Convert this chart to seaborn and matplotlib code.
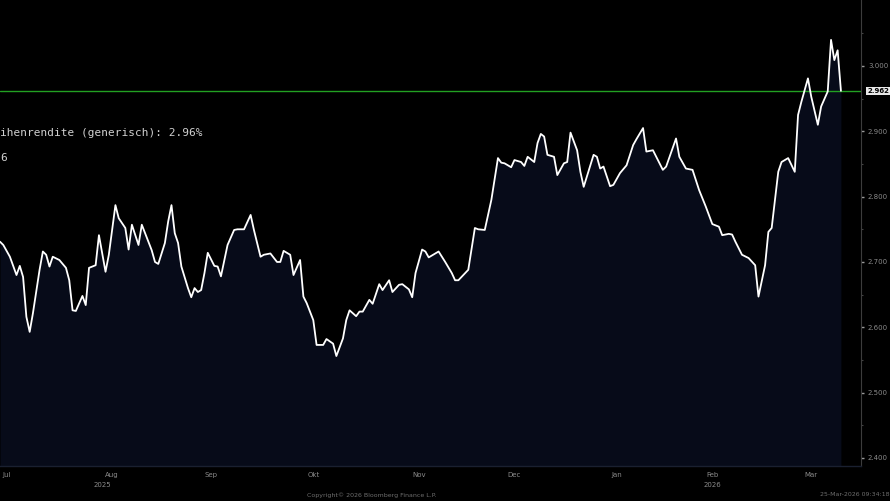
import numpy as np
import pandas as pd
import matplotlib
matplotlib.use("Agg")
import matplotlib.pyplot as plt
import matplotlib.dates as mdates
import seaborn as sns

# yield series (German 10y generic), Jul 2025 - Mar 2026
dates = [
    "2025-07-13", "2025-07-14", "2025-07-16", "2025-07-18", "2025-07-19", "2025-07-20",
    "2025-07-21", "2025-07-22", "2025-07-23", "2025-07-25", "2025-07-26", "2025-07-27",
    "2025-07-28", "2025-07-29", "2025-07-31", "2025-08-02", "2025-08-03", "2025-08-04",
    "2025-08-05", "2025-08-07", "2025-08-08", "2025-08-09", "2025-08-11", "2025-08-12",
    "2025-08-14", "2025-08-15", "2025-08-17", "2025-08-18", "2025-08-20", "2025-08-21",
    "2025-08-22", "2025-08-24", "2025-08-25", "2025-08-28", "2025-08-29", "2025-08-30",
    "2025-09-01", "2025-09-02", "2025-09-03", "2025-09-04", "2025-09-05", "2025-09-06",
    "2025-09-08", "2025-09-09", "2025-09-10", "2025-09-11", "2025-09-12", "2025-09-13",
    "2025-09-14", "2025-09-16", "2025-09-17", "2025-09-18", "2025-09-20", "2025-09-22",
    "2025-09-23", "2025-09-25", "2025-09-27", "2025-09-28", "2025-09-30", "2025-10-01",
    "2025-10-03", "2025-10-05", "2025-10-06", "2025-10-07", "2025-10-09", "2025-10-10",
    "2025-10-12", "2025-10-13", "2025-10-14", "2025-10-16", "2025-10-17", "2025-10-19",
    "2025-10-20", "2025-10-22", "2025-10-23", "2025-10-25", "2025-10-26", "2025-10-27",
    "2025-10-29", "2025-10-30", "2025-10-31", "2025-11-02", "2025-11-03", "2025-11-05",
    "2025-11-06", "2025-11-08", "2025-11-09", "2025-11-11", "2025-11-12", "2025-11-14",
    "2025-11-15", "2025-11-16", "2025-11-18", "2025-11-19", "2025-11-20", "2025-11-22",
    "2025-11-23", "2025-11-25", "2025-11-27", "2025-11-28", "2025-11-29", "2025-12-02",
    "2025-12-04", "2025-12-05", "2025-12-07", "2025-12-09", "2025-12-11", "2025-12-12",
    "2025-12-13", "2025-12-15", "2025-12-16", "2025-12-18", "2025-12-19", "2025-12-20",
    "2025-12-22", "2025-12-23", "2025-12-24", "2025-12-25", "2025-12-26", "2025-12-28",
    "2025-12-29", "2025-12-31", "2026-01-01", "2026-01-02", "2026-01-04", "2026-01-05",
    "2026-01-06", "2026-01-09", "2026-01-10", "2026-01-11", "2026-01-12", "2026-01-14",
    "2026-01-15", "2026-01-17", "2026-01-19", "2026-01-21", "2026-01-22", "2026-01-24",
    "2026-01-25", "2026-01-27", "2026-01-30", "2026-01-31", "2026-02-03", "2026-02-04",
    "2026-02-06", "2026-02-08", "2026-02-10", "2026-02-12", "2026-02-14", "2026-02-16",
    "2026-02-17", "2026-02-19", "2026-02-20", "2026-02-21", "2026-02-23", "2026-02-25",
    "2026-02-27", "2026-02-28", "2026-03-02", "2026-03-03", "2026-03-04", "2026-03-06",
    "2026-03-07", "2026-03-09", "2026-03-11", "2026-03-12", "2026-03-13", "2026-03-15",
    "2026-03-16", "2026-03-18", "2026-03-19", "2026-03-21", "2026-03-22", "2026-03-23",
    "2026-03-24", "2026-03-25",
]
yields = [
    2.731, 2.726, 2.708, 2.680, 2.694, 2.677,
    2.616, 2.593, 2.622, 2.688, 2.716, 2.711,
    2.693, 2.708, 2.703, 2.691, 2.672, 2.626,
    2.625, 2.648, 2.634, 2.691, 2.695, 2.741,
    2.685, 2.711, 2.787, 2.767, 2.752, 2.719,
    2.757, 2.726, 2.757, 2.718, 2.700, 2.697,
    2.729, 2.762, 2.787, 2.744, 2.729, 2.693,
    2.660, 2.646, 2.660, 2.654, 2.657, 2.683,
    2.714, 2.694, 2.693, 2.678, 2.726, 2.749,
    2.750, 2.750, 2.772, 2.749, 2.708, 2.711,
    2.713, 2.700, 2.700, 2.717, 2.711, 2.680,
    2.703, 2.647, 2.637, 2.611, 2.573, 2.573,
    2.582, 2.575, 2.556, 2.583, 2.611, 2.626,
    2.617, 2.624, 2.624, 2.642, 2.636, 2.666,
    2.657, 2.672, 2.654, 2.665, 2.666, 2.658,
    2.646, 2.683, 2.719, 2.716, 2.707, 2.713,
    2.716, 2.700, 2.683, 2.672, 2.672, 2.688,
    2.752, 2.750, 2.749, 2.795, 2.859, 2.852,
    2.851, 2.845, 2.856, 2.853, 2.847, 2.861,
    2.853, 2.882, 2.896, 2.892, 2.864, 2.861,
    2.833, 2.851, 2.853, 2.898, 2.871, 2.838,
    2.815, 2.864, 2.861, 2.843, 2.846, 2.816,
    2.818, 2.836, 2.848, 2.879, 2.888, 2.905,
    2.869, 2.871, 2.841, 2.846, 2.889, 2.861,
    2.843, 2.841, 2.810, 2.785, 2.758, 2.754,
    2.741, 2.743, 2.742, 2.731, 2.711, 2.706,
    2.695, 2.647, 2.695, 2.746, 2.752, 2.838,
    2.853, 2.859, 2.838, 2.925, 2.945, 2.981,
    2.953, 2.910, 2.938, 2.961, 3.040, 3.009,
    3.024, 2.962,
]

month_labels = ["Jul", "Aug", "Sep", "Okt", "Nov", "Dec", "Jan", "Feb", "Mar"]
month_label_dates = ["2025-07-15", "2025-08-16", "2025-09-15", "2025-10-16", "2025-11-17",
                     "2025-12-16", "2026-01-16", "2026-02-14", "2026-03-16"]
month_starts = ["2025-08-01", "2025-09-01", "2025-10-01", "2025-11-01", "2025-12-01",
                "2026-01-01", "2026-02-01", "2026-03-01"]
year_labels = ["2025", "2026"]
year_label_dates = ["2025-08-13", "2026-02-14"]
yticks = [2.4, 2.5, 2.6, 2.7, 2.8, 2.9, 3.0]

title_line = "ihenrendite (generisch): 2.96%"
second_line = "6"
copyright_txt = "Copyright\u00a9 2026 Bloomberg Finance L.P."
stamp_txt = "25-Mar-2026 09:34:18"

df = pd.DataFrame({"date": pd.to_datetime(dates), "yield": yields})
last = yields[-1]

sns.set_style("dark")
bg = "black"
navy = "#070b19"
grey = "#8a8a8a"

fig = plt.figure(figsize=(8.9, 5.01), dpi=100, facecolor=bg)
ax = fig.add_axes([0.0, 0.0699, 0.9674, 0.9301])
ax.set_facecolor(bg)

ymin, ymax = 2.3877, 3.101
ax.set_ylim(ymin, ymax)
ax.set_xlim(pd.Timestamp("2025-07-13"), pd.Timestamp("2026-03-31 02:00"))

ax.fill_between(df["date"], df["yield"], ymin, color=navy, lw=0, zorder=1)
sns.lineplot(data=df, x="date", y="yield", ax=ax, color="white", lw=1.3,
             estimator=None, zorder=3)
ax.axhline(last, color="#22a022", lw=1.0, zorder=2)

# axes cosmetics, Bloomberg-like
for s in ["top", "left"]:
    ax.spines[s].set_visible(False)
ax.spines["right"].set_color("#3c3c3c")
ax.spines["right"].set_linewidth(0.8)
ax.spines["bottom"].set_color("#1a2030")
ax.spines["bottom"].set_linewidth(1.0)
ax.grid(False)
ax.set_xlabel("")
ax.set_ylabel("")

ax.yaxis.tick_right()
ax.set_yticks(yticks)
ax.set_yticklabels([f"{t:.3f}" for t in yticks])
ax.set_yticks(np.arange(2.45, 3.1, 0.1), minor=True)
ax.tick_params(axis="y", which="major", length=2, width=1, color="#9a9a9a",
               labelsize=5, labelcolor=grey, pad=3, direction="out")
ax.tick_params(axis="y", which="minor", length=1.5, width=0.8, color="#444444",
               direction="out")

ax.set_xticks(pd.to_datetime(month_starts))
ax.set_xticklabels([""] * len(month_starts))
ax.set_xticks(pd.to_datetime(month_label_dates), minor=True)
ax.set_xticklabels(month_labels, minor=True)
ax.tick_params(axis="x", which="major", length=1.5, width=1, color="#5a5a5a",
               direction="out")
ax.tick_params(axis="x", which="minor", length=0, labelsize=5, labelcolor=grey,
               pad=4)

# year labels under the month names
for lab, d in zip(year_labels, year_label_dates):
    ax.text(mdates.date2num(pd.Timestamp(d)), -0.04, lab, transform=ax.get_xaxis_transform(),
            ha="center", va="center", fontsize=5, color=grey)

# last price tag on the right axis
fig.text(867 / 890, 1 - 91 / 501, f"{last:.3f}", ha="left", va="center", fontsize=5,
         color="black", fontweight="bold",
         bbox=dict(boxstyle="square,pad=0.15", fc="#e8e8e8", ec="none"))

fig.text(0.0, 1 - 133 / 501, title_line, ha="left", va="center", fontsize=8,
         family="DejaVu Sans Mono", color="#d0d0d0")
fig.text(0.0, 1 - 158 / 501, second_line, ha="left", va="center", fontsize=8,
         family="DejaVu Sans Mono", color="#d0d0d0")

fig.text(372 / 890, 1 - 495 / 501, copyright_txt, ha="center", va="center",
         fontsize=4.5, color="#6e6e6e")
fig.text(889 / 890, 1 - 495 / 501, stamp_txt, ha="right", va="center",
         fontsize=4.5, color="#6e6e6e")

fig.savefig("out.png", dpi=100, facecolor=bg)
